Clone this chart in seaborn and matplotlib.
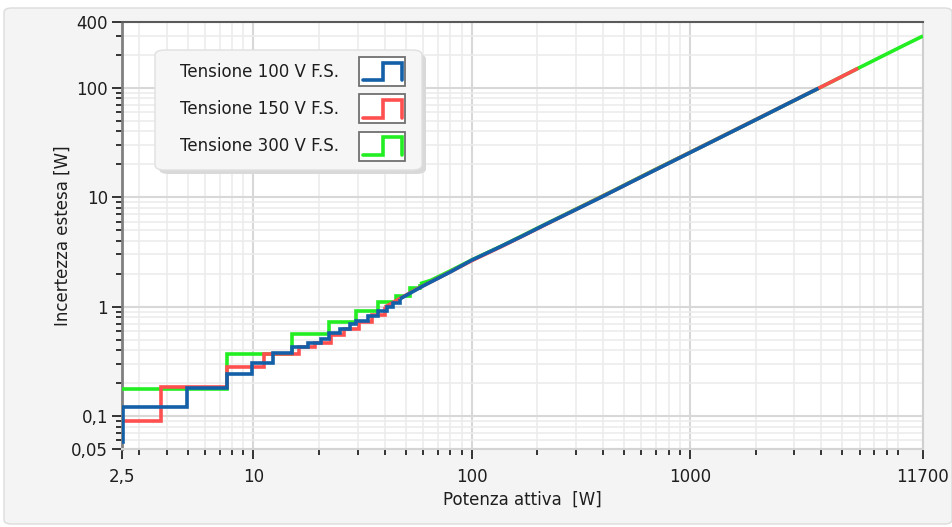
import matplotlib
matplotlib.use("Agg")
import matplotlib.pyplot as plt
import seaborn as sns
from matplotlib.lines import Line2D
from matplotlib.patches import Rectangle, FancyBboxPatch
from matplotlib.legend_handler import HandlerBase
from matplotlib.ticker import FixedLocator, LogLocator, NullFormatter

# ---------------- data ----------------
series_labels = ["Tensione 100 V F.S.", "Tensione 150 V F.S.", "Tensione 300 V F.S."]
series_colors = ["#1460a8", "#ff4f4f", "#22ee22"]

# low-power staircase: power where each step starts [W], uncertainty [W]
v100_step_x = [2.5, 2.52, 4.98, 7.55, 9.9, 12.3, 15.0, 17.7, 20.4, 22.1, 24.9, 27.7, 29.5, 33.6, 37.4, 40.8, 43.8]
v100_step_y = [0.058, 0.122, 0.18, 0.242, 0.307, 0.375, 0.43, 0.47, 0.51, 0.57, 0.62, 0.695, 0.745, 0.82, 0.91, 1.0, 1.08]
v150_step_x = [2.5, 3.76, 7.55, 11.2, 16.2, 19.2, 22.6, 26.0, 30.5, 35.0]
v150_step_y = [0.091, 0.185, 0.28, 0.367, 0.43, 0.47, 0.55, 0.63, 0.73, 0.84]
v300_step_x = [2.5, 7.55, 15.0, 22.1, 29.5, 37.4, 45.0, 52.0]
v300_step_y = [0.178, 0.372, 0.56, 0.73, 0.92, 1.11, 1.25, 1.47]

# higher-power part (fine steps, appears as a line)
v100_x = [47, 60, 80, 100, 130, 170, 220, 300, 400, 520, 700, 900, 1200, 1600, 2100, 2800, 3880]
v100_y = [1.18, 1.55, 2.08, 2.66, 3.4, 4.4, 5.7, 7.7, 10.2, 13.3, 17.9, 23.0, 30.6, 40.8, 53.5, 71.5, 99]
v150_x = [40, 55, 75, 100, 140, 190, 260, 350, 480, 650, 900, 1250, 1700, 2400, 3300, 4500, 5900]
v150_y = [0.99, 1.42, 1.95, 2.63, 3.62, 4.9, 6.7, 9.0, 12.3, 16.7, 23.1, 32.0, 43.5, 61.3, 84.3, 114.8, 151]
v300_x = [58, 65, 80, 100, 140, 200, 300, 450, 700, 1000, 1500, 2200, 3200, 4500, 5900, 7500, 9500, 11700]
v300_y = [1.62, 1.74, 2.13, 2.67, 3.66, 5.22, 7.78, 11.6, 18.1, 25.7, 38.4, 56.2, 81.6, 114.7, 151, 192, 243, 298]

x_tick_values = [2.5, 10, 100, 1000, 11700]
x_tick_labels = ["2,5", "10", "100", "1000", "11700"]
y_tick_values = [0.05, 0.1, 1, 10, 100, 400]
y_tick_labels = ["0,05", "0,1", "1", "10", "100", "400"]

x_label = "Potenza attiva  [W]"
y_label = "Incertezza estesa [W]"

# ---------------- figure ----------------
sns.set_theme(style="white")
plt.rcParams["font.family"] = ["DejaVu Sans"]

W, H = 953, 527
fig = plt.figure(figsize=(W / 100, H / 100), dpi=100)
fig.patch.set_facecolor("white")
panel = FancyBboxPatch((4 / W, 3 / H), 948 / W, 516 / H,
                       boxstyle="round,pad=0,rounding_size=0.008",
                       transform=fig.transFigure, facecolor="#f4f4f4",
                       edgecolor="#dcdcdc", lw=1.0, zorder=-5)
fig.patches.append(panel)

AX_L, AX_R, AX_T, AX_B = 122, 923, 22, 449
ax = fig.add_axes([AX_L / W, 1 - AX_B / H, (AX_R - AX_L) / W, (AX_B - AX_T) / H])
ax.set_facecolor("white")
ax.set_xscale("log")
ax.set_yscale("log")
ax.set_xlim(2.5, 11700)
ax.set_ylim(0.05, 400)

steps = [(v300_step_x, v300_step_y, v300_x, v300_y, series_colors[2]),
         (v150_step_x, v150_step_y, v150_x, v150_y, series_colors[1]),
         (v100_step_x, v100_step_y, v100_x, v100_y, series_colors[0])]
for sx, sy, tx, ty, col in steps:
    px = list(sx) + [tx[0]]
    py = list(sy) + [ty[0]]
    sns.lineplot(x=px, y=py, ax=ax, color=col, lw=2.6, drawstyle="steps-post",
                 estimator=None, sort=False, solid_joinstyle="miter",
                 solid_capstyle="butt", legend=False, zorder=3)
    sns.lineplot(x=tx, y=ty, ax=ax, color=col, lw=2.6, estimator=None,
                 sort=False, solid_capstyle="butt", legend=False, zorder=3)

# ticks
ax.xaxis.set_major_locator(FixedLocator(x_tick_values))
ax.set_xticklabels(x_tick_labels)
ax.xaxis.set_minor_locator(LogLocator(base=10, subs=[2, 3, 4, 5, 6, 7, 8, 9], numticks=20))
ax.xaxis.set_minor_formatter(NullFormatter())
ax.yaxis.set_major_locator(FixedLocator(y_tick_values))
ax.set_yticklabels(y_tick_labels)
ax.yaxis.set_minor_locator(LogLocator(base=10, subs=[2, 3, 4, 5, 6, 7, 8, 9], numticks=20))
ax.yaxis.set_minor_formatter(NullFormatter())

ax.tick_params(which="major", direction="out", length=7, width=1.4, color="#333333",
               labelsize=12, labelcolor="#1e1e1e", pad=3)
ax.tick_params(which="minor", direction="out", length=4, width=1.4, color="#333333")
ax.tick_params(axis="x", which="both", bottom=True, top=False)
ax.tick_params(axis="y", which="both", left=True, right=False)
ax.tick_params(axis="x", which="major", pad=7)

ax.grid(True, which="major", color="#d8d8d8", lw=1.5, zorder=0)
ax.grid(True, which="minor", color="#ececec", lw=1.2, zorder=0)
ax.set_axisbelow(True)

ax.spines["left"].set_color("#808080")
ax.spines["left"].set_linewidth(2.0)
ax.spines["top"].set_color("#5a5a5a")
ax.spines["top"].set_linewidth(1.5)
ax.spines["right"].set_color("#cfcfcf")
ax.spines["right"].set_linewidth(1.5)
ax.spines["bottom"].set_color("#d4d4d4")
ax.spines["bottom"].set_linewidth(1.5)

ax.set_xlabel(x_label, fontsize=12, color="#1e1e1e", labelpad=3)
ax.set_ylabel(y_label, fontsize=12, color="#1e1e1e", labelpad=0)


# legend with step icons
class StepHandler(HandlerBase):
    def create_artists(self, legend, orig_handle, xdescent, ydescent, width,
                       height, fontsize, trans):
        x0, y0 = -xdescent, -ydescent
        box = Rectangle((x0, y0), width, height, facecolor="white",
                        edgecolor="#707070", lw=1.3, transform=trans)
        xs = [x0 + 0.08 * width, x0 + 0.52 * width, x0 + 0.52 * width,
              x0 + 0.93 * width, x0 + 0.93 * width]
        ys = [y0 + 0.2 * height, y0 + 0.2 * height, y0 + 0.8 * height,
              y0 + 0.8 * height, y0 + 0.2 * height]
        ln = Line2D(xs, ys, color=orig_handle.get_color(), lw=2.6,
                    solid_joinstyle="miter", transform=trans)
        return [box, ln]


def ax_frac(px, py):
    return ((px - AX_L) / (AX_R - AX_L), (AX_B - py) / (AX_B - AX_T))


# legend panel (drawn behind the legend entries)
fx0, fy1 = ax_frac(155, 50)
fx1, fy0 = ax_frac(422, 170)
sx0, sy1 = ax_frac(159, 54)
sx1, sy0 = ax_frac(426, 174)
shadow = FancyBboxPatch((sx0, sy0), sx1 - sx0, sy1 - sy0,
                        boxstyle="round,pad=0,rounding_size=0.012",
                        transform=ax.transAxes, facecolor="#d9d9d9",
                        edgecolor="none", zorder=5)
lframe = FancyBboxPatch((fx0, fy0), fx1 - fx0, fy1 - fy0,
                        boxstyle="round,pad=0,rounding_size=0.012",
                        transform=ax.transAxes, facecolor="#f6f6f6",
                        edgecolor="#e0e0e0", lw=1.0, zorder=6)
ax.add_patch(shadow)
ax.add_patch(lframe)

handles = [Line2D([], [], color=c) for c in series_colors]
leg = ax.legend(handles, series_labels, handler_map={Line2D: StepHandler()},
                loc="upper left", bbox_to_anchor=ax_frac(180, 57),
                markerfirst=False, fontsize=12, handlelength=2.75,
                handleheight=2.3, labelspacing=0.5, handletextpad=1.2,
                borderpad=0.0, borderaxespad=0.0, frameon=False)
leg.set_zorder(7)
for t in leg.get_texts():
    t.set_color("#1e1e1e")

fig.savefig("out.png", dpi=100, facecolor=fig.get_facecolor())
